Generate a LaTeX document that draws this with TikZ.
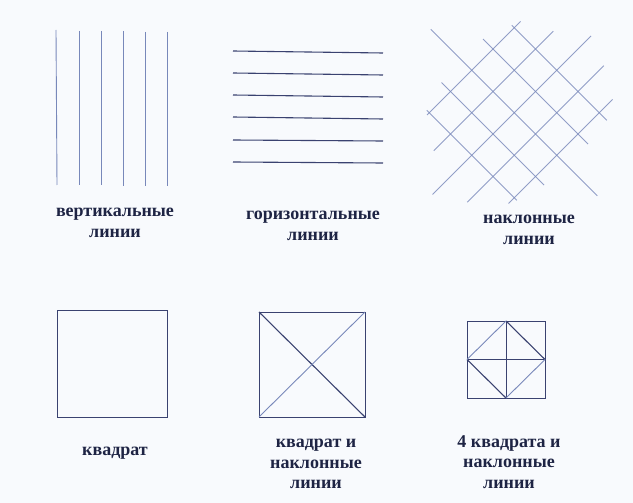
\documentclass[tikz,border=0pt]{standalone}
\usepackage{fontspec}
\setmainfont{Liberation Serif}

\definecolor{ink}{RGB}{30,36,68}
\definecolor{paper}{RGB}{248,250,253}
\definecolor{lightline}{RGB}{120,136,186}
\definecolor{darkline}{RGB}{58,66,112}

\tikzset{
  caption/.style={font=\bfseries\fontsize{18}{20.5}\selectfont, text=ink, align=center, inner sep=0pt},
  thinline/.style={draw=lightline, line width=0.9pt},
  darkline/.style={draw=darkline, line width=1.1pt},
  gridline/.style={draw=lightline, line width=1pt, draw opacity=0.8},
}

\begin{document}
\begin{tikzpicture}[x=1pt, y=-1pt]
        \fill[paper] (0,0) rectangle (633,503);

        % vertical lines
        \draw[thinline] (56,30) -- (57,185);
        \draw[thinline] (79,31) -- (79,185);
        \draw[thinline] (101,31) -- (101,185);
        \draw[thinline] (123,31) -- (123,186);
        \draw[thinline] (145,32) -- (145,186);
        \draw[thinline] (167,32) -- (167,186);
        \node[caption] (vert) at (115,223) {вертикальные\\линии};

        % horizontal lines
        \draw[darkline] (233,51) -- (383,53);
        \draw[darkline] (233,73) -- (383,75);
        \draw[darkline] (233,95) -- (383,97);
        \draw[darkline] (233,117) -- (383,119);
        \draw[darkline] (233,140) -- (383,141);
        \draw[darkline] (233,162) -- (383,163);
        \node[caption] (horiz) at (313,226) {горизонтальные\\линии};

        % slanted lines
        \draw[gridline] (427,115) -- (520.5,21.5);
        \draw[gridline] (433.75,150.75) -- (553.25,31.25);
        \draw[gridline] (432.5,194.5) -- (591,36);
        \draw[gridline] (467.25,202.25) -- (603.75,65.75);
        \draw[gridline] (508.5,203.5) -- (612.5,99.5);
        \draw[gridline] (426.75,110.25) -- (516.75,200.25);
        \draw[gridline] (441.5,82.5) -- (544,185);
        \draw[gridline] (430.75,29.25) -- (597.25,195.75);
        \draw[gridline] (483,39) -- (588,144);
        \draw[gridline] (511.75,25.25) -- (606.75,120.25);
        \node[caption] (slant) at (529,230) {наклонные\\линии};

        % square
        \draw[darkline, line width=1pt] (57,310) rectangle (167,417);
        \node[caption] (sq) at (115,453) {квадрат};

        % square and slanted lines
        \draw[darkline, line width=1pt] (259,312) rectangle (365,417);
        \draw[darkline] (259,312) -- (365,417);
        \draw[thinline] (259,417) -- (365,312);
        \node[caption] (sqx) at (316,464) {квадрат и\\наклонные\\линии};

        % four squares and slanted lines
        \draw[darkline, line width=1pt] (467,321) rectangle (545,398);
        \draw[darkline, line width=1pt] (506,321) -- (506,398);
        \draw[darkline, line width=1pt] (467,359.5) -- (545,359.5);
        \draw[darkline] (506,321) -- (545,359.5);
        \draw[darkline] (467,359.5) -- (506,398);
        \draw[thinline] (467,359.5) -- (506,321);
        \draw[thinline] (545,359.5) -- (506,398);
        \node[caption] (four) at (509,462) {4 квадрата и\\наклонные\\линии};
\end{tikzpicture}
\end{document}
